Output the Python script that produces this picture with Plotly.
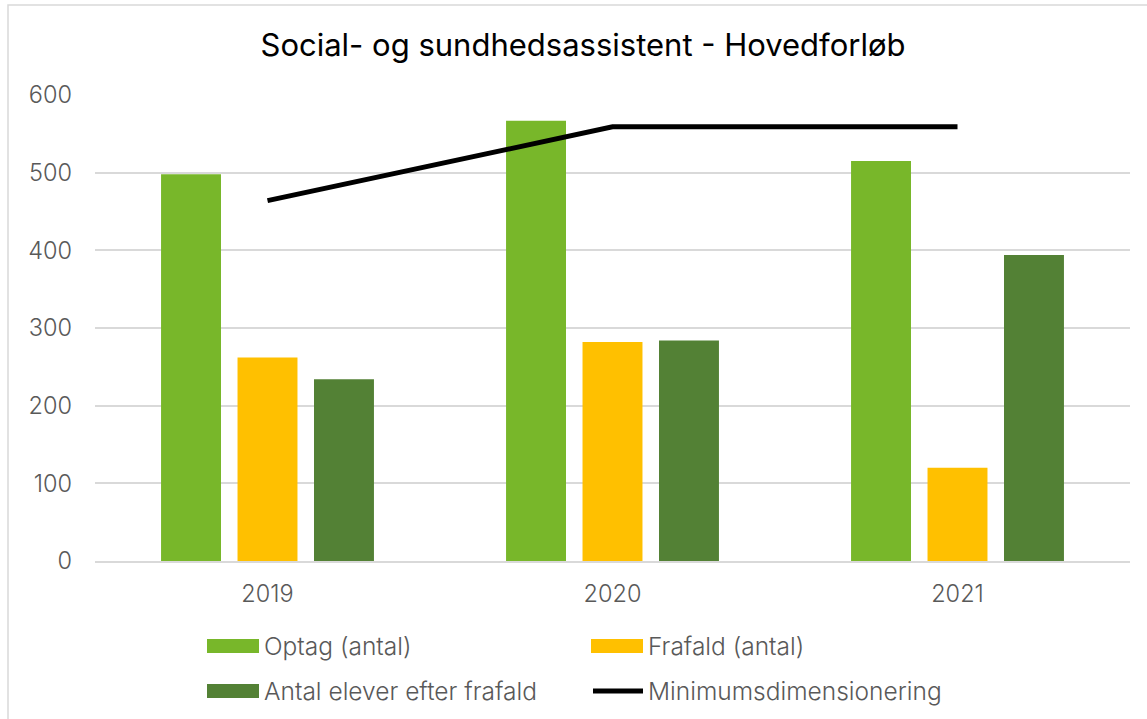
import plotly.graph_objects as go

years = ["2019", "2020", "2021"]
optag = [498, 567, 515]
frafald = [262, 282, 120]
antal_efter = [234, 284, 394]
minimum = [464, 559, 559]

series_names = ["Optag (antal)", "Frafald (antal)", "Antal elever efter frafald", "Minimumsdimensionering"]
colors = ["#78B72A", "#FFC000", "#538135", "#000000"]

FONT = "Inter"
W, H = 1147, 719
ML, MR, MT, MB = 95, 17, 95, 158
PW, PH = W - ML - MR, H - MT - MB

fig = go.Figure()
for name, vals, col in zip(series_names[:3], [optag, frafald, antal_efter], colors[:3]):
    fig.add_trace(go.Bar(x=years, y=vals, name=name, marker=dict(color=col, line=dict(width=0)),
                         showlegend=False))
fig.add_trace(go.Scatter(x=years, y=minimum, name=series_names[3], mode="lines",
                         line=dict(color=colors[3], width=5), showlegend=False))

def px_x(x):
    return (x - ML) / PW

def px_y(y):
    return (H - MB - y) / PH

shapes = [
    dict(type="rect", xref="paper", yref="paper", x0=px_x(8), x1=px_x(1170), y0=px_y(5), y1=px_y(740),
         line=dict(color="#d9d9d9", width=1.5), fillcolor="rgba(0,0,0,0)", layer="below"),
]
annotations = []
legend_pos = [(207, 646), (591, 646), (207, 691), (591, 691)]
for i, (name, col) in enumerate(zip(series_names, colors)):
    lx, ly = legend_pos[i]
    if i < 3:
        shapes.append(dict(type="rect", xref="paper", yref="paper", x0=px_x(lx), x1=px_x(lx + 52),
                           y0=px_y(ly - 7), y1=px_y(ly + 7), fillcolor=col, line=dict(width=0)))
    else:
        shapes.append(dict(type="line", xref="paper", yref="paper", x0=px_x(lx + 2), x1=px_x(lx + 52),
                           y0=px_y(ly), y1=px_y(ly), line=dict(color=col, width=5)))
    annotations.append(dict(text=name, xref="paper", yref="paper", x=px_x(lx + 55), y=px_y(ly),
                            xanchor="left", yanchor="middle", showarrow=False,
                            font=dict(family=FONT, size=24.5, weight=300, color="#595959")))

fig.update_layout(
    width=W, height=H,
    margin=dict(l=ML, r=MR, t=MT, b=MB),
    paper_bgcolor="white", plot_bgcolor="white",
    title=dict(text="Social- og sundhedsassistent - Hovedforløb", x=583 / W, xanchor="center",
               y=1 - 45 / H, yanchor="middle", font=dict(family=FONT, size=31, color="#000000")),
    barmode="group", bargap=0.335, bargroupgap=0.216,
    shapes=shapes, annotations=annotations,
    showlegend=False,
)
fig.update_xaxes(showgrid=False, showline=True, linecolor="#d9d9d9", linewidth=1.5, ticks="",
                 tickfont=dict(family=FONT, size=23.5, weight=300, color="#595959"), ticklabelstandoff=11)
fig.update_yaxes(range=[0, 600], dtick=100, showgrid=True, gridcolor="#d9d9d9", gridwidth=1.5,
                 zeroline=False, showline=False, ticks="",
                 tickfont=dict(family=FONT, size=23.5, weight=300, color="#595959"), ticklabelstandoff=22)

fig.write_html("out.html", config={"displayModeBar": False},
               post_script="document.body.style.margin='0';")
